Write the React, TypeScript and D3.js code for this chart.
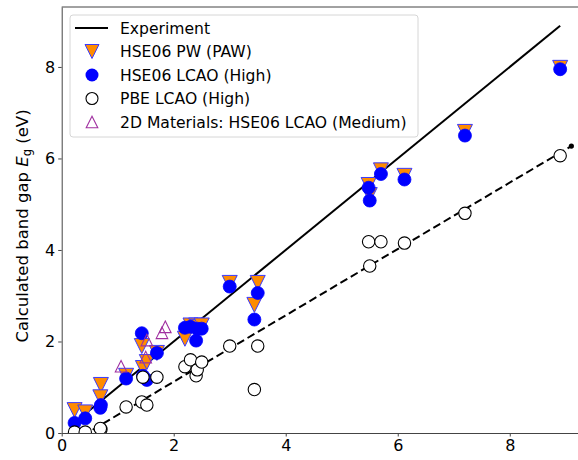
import { useRef, useEffect } from 'react'
import * as d3 from 'd3'

// experimental gap (x) and calculated gaps per method
const expGap = [0.23, 0.42, 0.70, 0.69, 1.15, 1.43, 1.45, 1.52, 1.70, 2.20, 2.30, 2.40, 2.42, 2.50, 3.00, 3.44, 3.50, 5.48, 5.50, 5.70, 6.12, 7.20, 8.90]
const hsePW = [0.50, 0.45, 1.05, 0.78, 1.25, 1.90, 1.42, 1.55, 1.75, 2.06, 2.35, 2.35, 2.32, 2.35, 3.28, 2.80, 3.28, 5.42, 5.20, 5.74, 5.62, 6.58, 7.98]
const hseLCAO = [0.22, 0.32, 0.61, 0.55, 1.19, 2.18, 1.25, 1.16, 1.75, 2.30, 2.32, 2.02, 2.28, 2.28, 3.20, 2.48, 3.06, 5.36, 5.08, 5.66, 5.54, 6.50, 7.95]
const pbeLCAO = [0.02, 0.02, 0.08, 0.10, 0.57, 0.68, 1.22, 0.61, 1.22, 1.45, 1.60, 1.25, 1.38, 1.55, 1.90, 0.95, 1.90, 4.18, 3.65, 4.18, 4.15, 4.80, 6.06]

const twoDExp = [1.06, 1.50, 1.52, 1.79, 1.85]
const twoDHse = [1.46, 1.66, 2.03, 2.19, 2.32]

// linear fit through the PBE values
const fitX = [0, 9.1]
const fitY = [-0.33, 6.27]

const xTicks = [0, 2, 4, 6, 8]
const yTicks = [0, 2, 4, 6, 8]

const legendLabels = ['Experiment', 'HSE06 PW (PAW)', 'HSE06 LCAO (High)', 'PBE LCAO (High)', '2D Materials: HSE06 LCAO (Medium)']

const FONT = 'DejaVu Sans, sans-serif'
const ORANGE = '#ff8c00'
const BLUE = '#0000ff'
const EDGE = '#3b3bff'
const PURPLE = '#a030a0'

const triDown = (cx: number, cy: number, s: number) => `M${cx - s},${cy - s}L${cx + s},${cy - s}L${cx},${cy + s}Z`
const triUp = (cx: number, cy: number, s: number) => `M${cx},${cy - s}L${cx - s},${cy + s}L${cx + s},${cy + s}Z`

const BandGapChart = () => {
  const chartRef = useRef<SVGSVGElement>(null)

  useEffect(() => {
    drawChart()
  }, [])

  const drawChart = () => {
    const svg = d3.select(chartRef.current)
    svg.selectAll('*').remove()

    const left = 61.7, right = 582, top = 7, bottom = 433

    const x = d3.scaleLinear().domain([0, 9.29]).range([left, right])
    const y = d3.scaleLinear().domain([0, 9.31]).range([bottom, top])

    svg.append('clipPath').attr('id', 'plot-clip')
      .append('rect')
      .attr('x', left).attr('y', top)
      .attr('width', right - left).attr('height', bottom - top)

    const plot = svg.append('g').attr('clip-path', 'url(#plot-clip)')

    // experiment line y = x
    const ext = d3.extent(expGap) as [number, number]
    plot.append('line')
      .attr('x1', x(ext[0])).attr('y1', y(ext[0]))
      .attr('x2', x(ext[1])).attr('y2', y(ext[1]))
      .attr('stroke', '#000').attr('stroke-width', 2)

    // PBE fit, dashed
    plot.append('line')
      .attr('x1', x(fitX[0])).attr('y1', y(fitY[0]))
      .attr('x2', x(fitX[1])).attr('y2', y(fitY[1]))
      .attr('stroke', '#000').attr('stroke-width', 2)
      .attr('stroke-dasharray', '8,4')
    plot.append('circle')
      .attr('cx', x(fitX[1])).attr('cy', y(fitY[1])).attr('r', 2.6)
      .attr('fill', '#000')

    // HSE06 PW
    plot.selectAll('path.pw')
      .data(expGap)
      .enter().append('path')
      .attr('class', 'pw')
      .attr('d', (d, i) => triDown(x(d), y(hsePW[i]), 7.5))
      .attr('fill', ORANGE).attr('stroke', EDGE).attr('stroke-width', 1)

    // HSE06 LCAO
    plot.selectAll('circle.lcao')
      .data(expGap)
      .enter().append('circle')
      .attr('class', 'lcao')
      .attr('cx', (d) => x(d)).attr('cy', (d, i) => y(hseLCAO[i]))
      .attr('r', 6.5)
      .attr('fill', BLUE).attr('stroke', BLUE).attr('stroke-width', 0.8)

    // PBE LCAO
    plot.selectAll('circle.pbe')
      .data(expGap)
      .enter().append('circle')
      .attr('class', 'pbe')
      .attr('cx', (d) => x(d)).attr('cy', (d, i) => y(pbeLCAO[i]))
      .attr('r', 6.2)
      .attr('fill', 'white').attr('stroke', '#000').attr('stroke-width', 1.1)

    // 2D materials
    plot.selectAll('path.twod')
      .data(twoDExp)
      .enter().append('path')
      .attr('class', 'twod')
      .attr('d', (d, i) => triUp(x(d), y(twoDHse[i]), 5.8))
      .attr('fill', 'none').attr('stroke', PURPLE).attr('stroke-width', 1.1)

    // axes
    const xAxis = svg.append('g')
      .attr('transform', `translate(0,${bottom})`)
      .call(d3.axisBottom(x).tickValues(xTicks).tickFormat(d3.format('d')).tickSize(3.5).tickSizeOuter(0).tickPadding(3))
    const yAxis = svg.append('g')
      .attr('transform', `translate(${left},0)`)
      .call(d3.axisLeft(y).tickValues(yTicks).tickFormat(d3.format('d')).tickSize(3.5).tickSizeOuter(0).tickPadding(3))

    ;[xAxis, yAxis].forEach((g) => {
      g.select('.domain').attr('stroke', '#444').attr('stroke-width', 1)
      g.selectAll('.tick line').attr('stroke', '#444').attr('stroke-width', 1)
      g.selectAll('.tick text').attr('font-family', FONT).attr('font-size', 16).attr('fill', '#000')
    })

    // top spine
    svg.append('line')
      .attr('x1', left).attr('y1', top).attr('x2', right).attr('y2', top)
      .attr('stroke', '#444').attr('stroke-width', 1)

    // y label
    const label = svg.append('text')
      .attr('transform', `translate(28,${(top + bottom) / 2 + 6}) rotate(-90)`)
      .attr('text-anchor', 'middle')
      .attr('font-family', FONT).attr('font-size', 16.5)
    label.append('tspan').text('Calculated band gap ')
    label.append('tspan').attr('font-style', 'italic').text('E')
    label.append('tspan').attr('font-size', 11.5).attr('dy', 3).text('g')
    label.append('tspan').attr('dy', -3).text(' (eV)')

    // legend
    const lg = svg.append('g')
    lg.append('rect')
      .attr('x', 70).attr('y', 15).attr('width', 348).attr('height', 122)
      .attr('rx', 3).attr('fill', 'white').attr('fill-opacity', 0.8)
      .attr('stroke', '#d6d6d6').attr('stroke-width', 1)

    const rowY = (i: number) => 28 + i * 23.5
    const mx = 92

    lg.append('line')
      .attr('x1', 75).attr('y1', rowY(0)).attr('x2', 108).attr('y2', rowY(0))
      .attr('stroke', '#000').attr('stroke-width', 2)
    lg.append('path').attr('d', triDown(mx, rowY(1), 7))
      .attr('fill', ORANGE).attr('stroke', EDGE).attr('stroke-width', 1)
    lg.append('circle').attr('cx', mx).attr('cy', rowY(2)).attr('r', 6.5).attr('fill', BLUE)
    lg.append('circle').attr('cx', mx).attr('cy', rowY(3)).attr('r', 6)
      .attr('fill', 'white').attr('stroke', '#000').attr('stroke-width', 1.1)
    lg.append('path').attr('d', triUp(mx, rowY(4), 5.8))
      .attr('fill', 'none').attr('stroke', PURPLE).attr('stroke-width', 1.1)

    lg.selectAll('text.lab')
      .data(legendLabels)
      .enter().append('text')
      .attr('class', 'lab')
      .attr('x', 120).attr('y', (d, i) => rowY(i) + 5.5)
      .attr('font-family', FONT).attr('font-size', 15.6)
      .text((d) => d)
  }

  return (
    <svg ref={chartRef} width={578} height={460} style={{ position: 'absolute', left: 0, top: 0, background: 'white' }}></svg>
  )
}

export default function App() {
  return <BandGapChart />
}
